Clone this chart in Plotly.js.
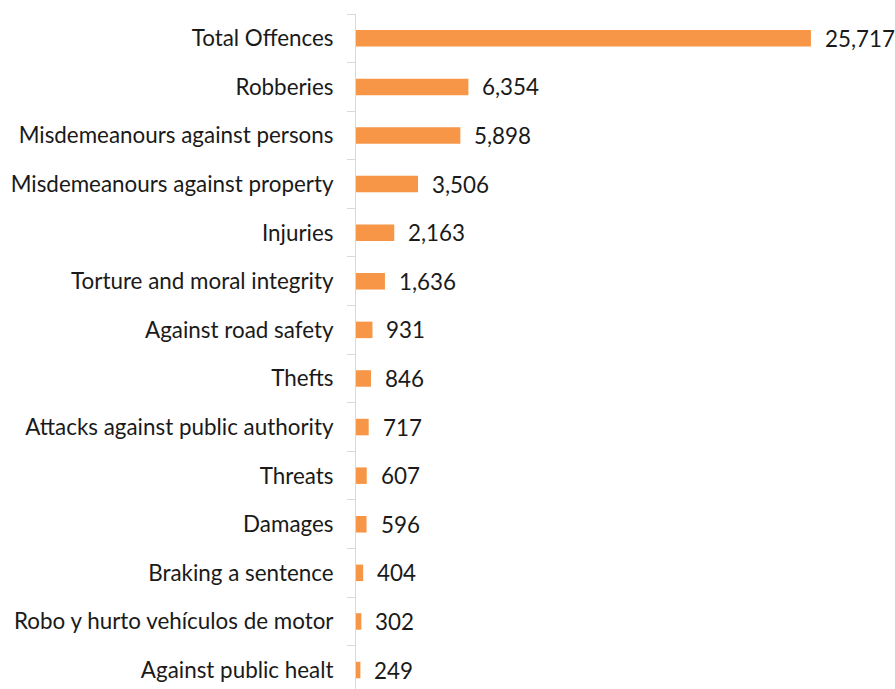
<!DOCTYPE html>
<html><head><meta charset="utf-8">
<script src="https://cdn.plot.ly/plotly-3.0.1.min.js"></script>
<style>html,body{margin:0;padding:0;background:#fff;}#chart{width:895px;height:689px;}</style>
</head><body><div id="chart"></div>
<script>
const categories = ["Total Offences","Robberies","Misdemeanours against persons","Misdemeanours against property","Injuries","Torture and moral integrity","Against road safety","Thefts","Attacks against public authority","Threats","Damages","Braking a sentence","Robo y hurto vehículos de motor","Against public healt"];
const values = [25717,6354,5898,3506,2163,1636,931,846,717,607,596,404,302,249];
const valueLabels = values.map(v => v.toLocaleString('en-US'));
const FONT = "Lato, 'Open Sans', sans-serif";
const trace = {
  type: 'bar', orientation: 'h', y: categories, x: values,
  marker: {color: '#F79646'}, hoverinfo: 'skip'
};
const annotations = values.map((v,i) => ({
  x: v, y: categories[i], xref: 'x', yref: 'y', text: valueLabels[i],
  showarrow: false, xanchor: 'left', xshift: 12,
  font: {family: FONT, size: 22.4, color: '#1a1a1a'}
}));
const layout = {
  width: 895, height: 689,
  margin: {l: 356, r: 0, t: 14, b: 0, pad: 0},
  paper_bgcolor: '#fff', plot_bgcolor: '#fff',
  showlegend: false, bargap: 0.66,
  font: {family: FONT, size: 22.4, color: '#1a1a1a'},
  xaxis: {range: [0, 30470], visible: false, fixedrange: true},
  yaxis: {type: 'category', range: [13.39, -0.5], showline: true, linecolor: '#d9d9d9', linewidth: 1,
          ticks: 'outside', tickson: 'boundaries', ticklen: 8, tickcolor: '#d9d9d9',
          showgrid: false, zeroline: false, ticklabelstandoff: 17,
          tickfont: {family: FONT, size: 22.4, color: '#1a1a1a'}},
  annotations: annotations
};
Plotly.newPlot('chart', [trace], layout, {staticPlot: true, displayModeBar: false});
</script></body></html>
